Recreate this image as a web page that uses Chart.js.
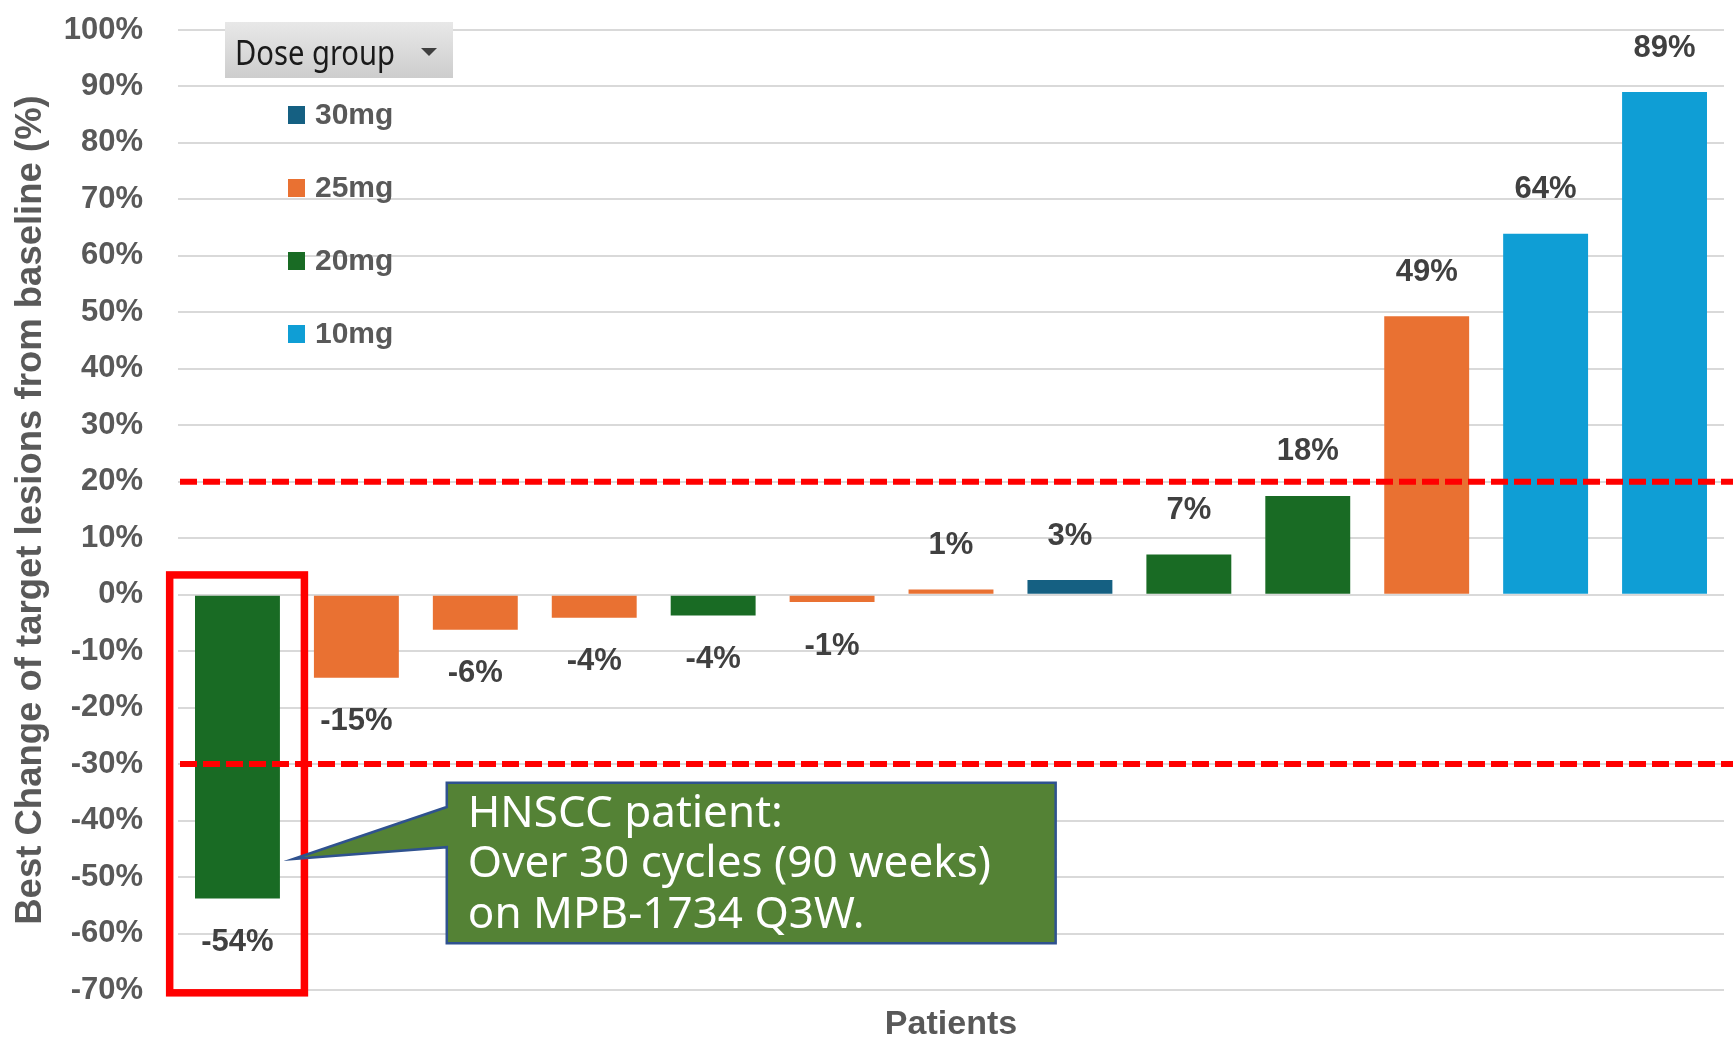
<!DOCTYPE html>
<html>
<head>
<meta charset="utf-8">
<script src="https://cdn.jsdelivr.net/npm/chart.js@4.4.1/dist/chart.umd.min.js"></script>
<style>
	html, body { margin: 0; padding: 0; background: #fff; }
</style>
</head>
<body>
<canvas id="graficoBarras" width="1733" height="1039"></canvas>
<script>
// one bar per patient, sorted by best change
pacientes = ['P1', 'P2', 'P3', 'P4', 'P5', 'P6', 'P7', 'P8', 'P9', 'P10', 'P11', 'P12', 'P13']
doseDoPaciente = ['20mg', '25mg', '25mg', '25mg', '20mg', '25mg', '25mg', '30mg', '20mg', '20mg', '25mg', '10mg', '10mg']
melhorVariacao = [-53.8, -14.7, -6.2, -4.1, -3.7, -1.3, 0.9, 2.6, 7.1, 17.5, 49.3, 63.9, 89.0]

gruposDose = ['30mg', '25mg', '20mg', '10mg']
cores = ['#156082', '#E97132', '#196B24', '#0F9ED5']

// y axis ticks (%)
eixoMin = -70
eixoMax = 100
passo = 10

// RECIST thresholds drawn as dashed lines
limites = [20, -30]

textoDestaque = ['HNSCC patient:', 'Over 30 cycles (90 weeks)', 'on MPB-1734 Q3W.']

var fonteBase = "'Liberation Sans', Arial, sans-serif"

function montaDatasets() {
	return gruposDose.map((grupo, g) => ({
		label: grupo,
		data: melhorVariacao.map((v, i) => doseDoPaciente[i] === grupo ? v : null),
		backgroundColor: cores[g],
		borderWidth: 0,
		grouped: false,
		barPercentage: 0.714,
		categoryPercentage: 1.0,
	}))
}

var anotacoes = {
	id: 'anotacoes',
	afterDatasetsDraw(chart) {
		const ctx = chart.ctx
		const xs = chart.scales.x
		const ys = chart.scales.y
		const area = chart.chartArea

		// data labels
		ctx.save()
		ctx.font = 'bold 31px ' + fonteBase
		ctx.fillStyle = '#404040'
		ctx.textAlign = 'center'
		ctx.textBaseline = 'middle'
		chart.data.datasets.forEach((ds, d) => {
			chart.getDatasetMeta(d).data.forEach((bar, i) => {
				const v = ds.data[i]
				if (v === null) return
				const y = v >= 0 ? bar.y - 44 : bar.y + 44
				ctx.fillText(Math.round(v) + '%', bar.x, y)
			})
		})
		ctx.restore()

		// dashed threshold lines
		ctx.save()
		ctx.strokeStyle = '#FF0000'
		ctx.lineWidth = 6
		ctx.setLineDash([17, 6])
		limites.forEach((lim) => {
			const y = ys.getPixelForValue(lim)
			ctx.beginPath()
			ctx.moveTo(area.left + 2, y)
			ctx.lineTo(chart.width, y)
			ctx.stroke()
		})
		ctx.restore()

		// red frame around the first patient
		ctx.save()
		ctx.strokeStyle = '#FF0000'
		ctx.lineWidth = 7.5
		const bx1 = xs.getPixelForValue(-0.57)
		const bx2 = xs.getPixelForValue(0.563)
		const by1 = ys.getPixelForValue(3.5)
		const by2 = ys.getPixelForValue(-70.5)
		ctx.strokeRect(bx1, by1, bx2 - bx1, by2 - by1)
		ctx.restore()

		// callout
		const cl = xs.getPixelForValue(1.76)
		const cr = xs.getPixelForValue(6.88)
		const ct = ys.getPixelForValue(-33.3)
		const cb = ys.getPixelForValue(-61.7)
		const tipX = xs.getPixelForValue(0.47)
		const tipY = ys.getPixelForValue(-46.8)
		const baseA = ys.getPixelForValue(-37.6)
		const baseB = ys.getPixelForValue(-44.7)
		ctx.save()
		ctx.beginPath()
		ctx.moveTo(cl, ct)
		ctx.lineTo(cr, ct)
		ctx.lineTo(cr, cb)
		ctx.lineTo(cl, cb)
		ctx.lineTo(cl, baseB)
		ctx.lineTo(tipX, tipY)
		ctx.lineTo(cl, baseA)
		ctx.closePath()
		ctx.fillStyle = '#548235'
		ctx.fill()
		ctx.strokeStyle = '#2F528F'
		ctx.lineWidth = 2.5
		ctx.stroke()
		ctx.fillStyle = '#FFFFFF'
		ctx.font = "44px 'Noto Sans', 'Open Sans', sans-serif"
		ctx.textAlign = 'left'
		ctx.textBaseline = 'alphabetic'
		textoDestaque.forEach((linha, i) => {
			ctx.fillText(linha, cl + 21, ct + 44 + i * 50.5)
		})
		ctx.restore()

		// pivot "Dose group" button + legend
		ctx.save()
		const grad = ctx.createLinearGradient(0, 22, 0, 78)
		grad.addColorStop(0, '#E8E8E8')
		grad.addColorStop(1, '#CDCDCD')
		ctx.fillStyle = grad
		ctx.fillRect(225, 22, 228, 56)
		ctx.fillStyle = '#1A1A1A'
		ctx.font = "35px 'Noto Sans', 'Open Sans', sans-serif"
		ctx.textBaseline = 'alphabetic'
		ctx.fillText('Dose group', 235, 65, 160)
		ctx.fillStyle = '#404040'
		ctx.beginPath()
		ctx.moveTo(421, 48)
		ctx.lineTo(437, 48)
		ctx.lineTo(429, 56)
		ctx.closePath()
		ctx.fill()

		ctx.font = 'bold 30px ' + fonteBase
		ctx.textBaseline = 'middle'
		chart.data.datasets.forEach((ds, d) => {
			const y = 115 + d * 73
			ctx.fillStyle = ds.backgroundColor
			ctx.fillRect(288, y - 9, 17, 18)
			ctx.fillStyle = '#595959'
			ctx.fillText(ds.label, 315, y + 1, 82)
		})
		ctx.restore()
	}
}

function geraGrafico() {
	var config = {
		type: 'bar',
		data: {
			labels: pacientes,
			datasets: montaDatasets(),
		},
		options: {
			responsive: false,
			animation: false,
			devicePixelRatio: 1,
			layout: {
				padding: { left: 0, right: 9, top: 30, bottom: 0 },
			},
			plugins: {
				legend: { display: false },
				tooltip: { enabled: false },
				title: { display: false },
			},
			scales: {
				x: {
					type: 'category',
					offset: true,
					grid: { display: false },
					border: { display: false },
					ticks: { display: false },
					title: {
						display: true,
						text: 'Patients',
						color: '#595959',
						font: { family: fonteBase, size: 34, weight: 'bold' },
						padding: { top: 0, bottom: -6 },
					},
					afterFit: (s) => { s.height = 49 },
				},
				y: {
					min: eixoMin,
					max: eixoMax,
					ticks: {
						stepSize: passo,
						color: '#595959',
						padding: 2,
						font: { family: fonteBase, size: 31, weight: 'bold' },
						callback: (v) => v + '%',
					},
					grid: {
						color: '#D9D9D9',
						lineWidth: 2,
						drawTicks: true,
						tickLength: 33,
						tickColor: 'rgba(0,0,0,0)',
					},
					border: { display: false },
					title: {
						display: true,
						text: 'Best Change of target lesions from baseline (%)',
						color: '#595959',
						font: { family: fonteBase, size: 36.5, weight: 'bold' },
						padding: { top: 9, bottom: 0 },
					},
					afterFit: (s) => { s.width = 178 },
				},
			},
		},
		plugins: [anotacoes],
	}
	var ctx = document.getElementById('graficoBarras').getContext('2d')
	window.meuGrafico = new Chart(ctx, config)
}

geraGrafico()
</script>
</body>
</html>
